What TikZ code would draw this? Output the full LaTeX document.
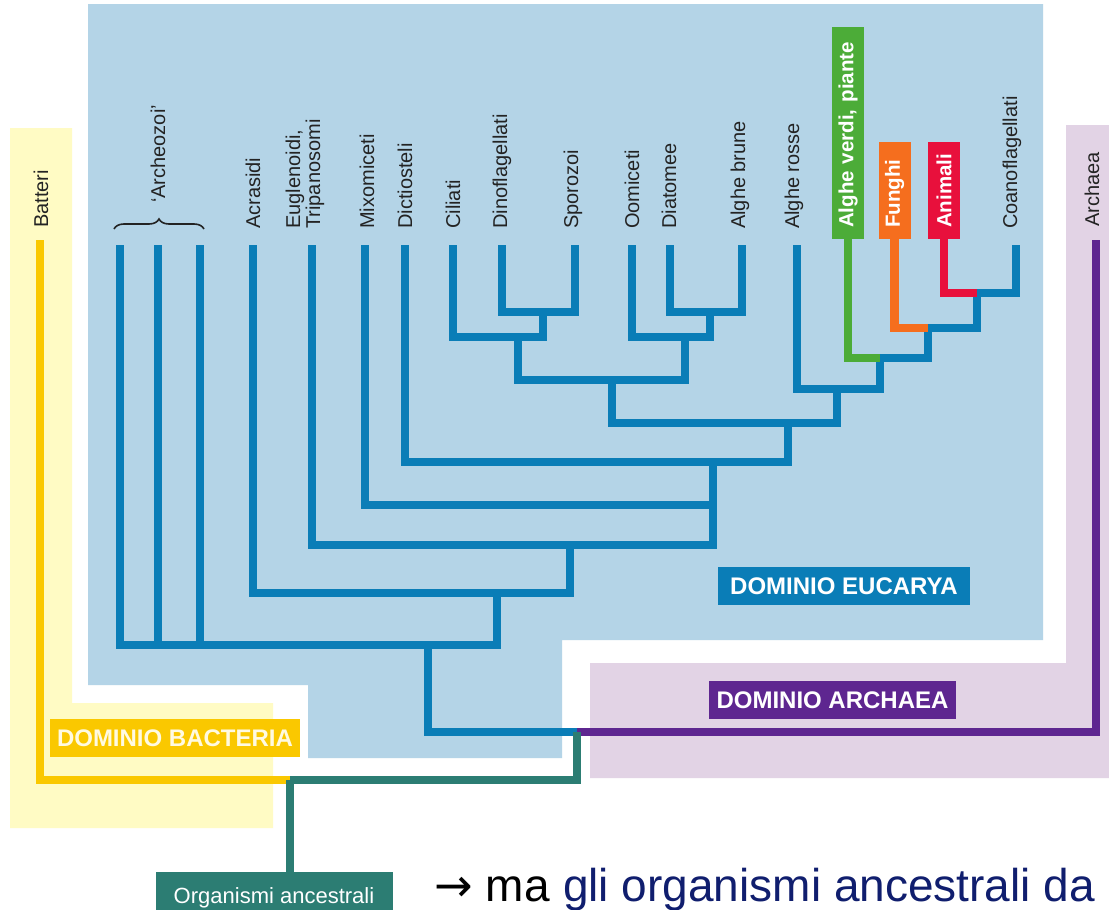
\documentclass[tikz,border=0pt]{standalone}
\usepackage{fontspec}
\setmainfont{Liberation Sans}
\newfontfamily\arrowfont{DejaVu Sans}
\usetikzlibrary{decorations.pathreplacing}
\definecolor{bgblue}{RGB}{180,212,231}
\definecolor{treeblue}{RGB}{10,125,183}
\definecolor{bgyellow}{RGB}{255,251,196}
\definecolor{yellowline}{RGB}{250,200,0}
\definecolor{bgpurple}{RGB}{226,211,229}
\definecolor{archpurple}{RGB}{94,38,144}
\definecolor{ancteal}{RGB}{44,125,115}
\definecolor{cgreen}{RGB}{76,172,56}
\definecolor{corange}{RGB}{245,110,30}
\definecolor{cred}{RGB}{232,16,60}
\definecolor{navy}{RGB}{16,30,110}
\definecolor{labelgray}{RGB}{35,35,35}
\definecolor{cream}{RGB}{255,250,225}
\begin{document}
\begin{tikzpicture}[x=1pt,y=-1pt,
  tree/.style={line width=8.5pt, line join=miter},
  lbl/.style={rotate=90, anchor=west, inner sep=0pt, text=labelgray,
              font=\fontsize{20}{20}\selectfont},
  cbox/.style={rotate=90, anchor=west, inner xsep=11pt, inner ysep=0pt,
               minimum height=32pt, align=left, text=white,
               font=\fontsize{20.5}{21}\selectfont\bfseries},
  dom/.style={inner sep=0pt, minimum height=38pt,
              font=\fontsize{24}{24}\selectfont\bfseries}]
\useasboundingbox (0,0) rectangle (1109,910);
\clip (0,0) rectangle (1109,910);
\fill[white] (0,0) rectangle (1109,910);
% backgrounds
\fill[bgyellow] (10,128) -- (72,128) -- (72,703) -- (273,703) -- (273,828) -- (10,828) -- cycle;
\fill[bgblue] (88,4) -- (1043,4) -- (1043,640) -- (562,640) -- (562,758) -- (308,758) -- (308,685) -- (88,685) -- cycle;
\fill[bgpurple] (1066,125) -- (1109,125) -- (1109,778) -- (590,778) -- (590,663) -- (1066,663) -- cycle;

% leaf labels
\node[lbl] (tbat) at (41,228) {Batteri};
\node[lbl] (tarc) at (158,203) {`Archeozoi'};
\node[lbl] (tacra) at (253,229) {Acrasidi};
\node[lbl, align=left] (teugl) at (305,229) {Euglenoidi,\\Tripanosomi};
\node[lbl] (tmixo) at (367,229) {Mixomiceti};
\node[lbl] (tdict) at (405,229) {Dictiosteli};
\node[lbl] (tcil) at (453,229) {Ciliati};
\node[lbl] (tdino) at (502,229) {Dinoflagellati};
\node[lbl] (tspor) at (573,229) {Sporozoi};
\node[lbl] (toom) at (632,229) {Oomiceti};
\node[lbl] (tdiat) at (669,229) {Diatomee};
\node[lbl] (tabru) at (740,229) {Alghe brune};
\node[lbl] (taros) at (794,229) {Alghe rosse};
\node[lbl] (tcoan) at (1012,229) {Coanoflagellati};
\node[lbl] (tarch) at (1092,227) {Archaea};
\draw[labelgray, line width=1.6pt, decorate, decoration={brace, amplitude=10pt}]
  (114,229) -- (204,229);

% coloured leaf boxes
\node[cbox, fill=cgreen, text width=190pt] (verdi) at (848,239) {Alghe verdi, piante};
\node[cbox, fill=corange, text width=75pt] (fung) at (894.5,239) {Funghi};
\node[cbox, fill=cred, text width=75pt] (anim) at (944,239) {Animali};

% leaf coordinates
\coordinate (bat) at (40,240);
\coordinate (arc1) at (120,245);
\coordinate (arc2) at (158,245);
\coordinate (arc3) at (200,245);
\coordinate (acra) at (253,245);
\coordinate (eugl) at (312,245);
\coordinate (mixo) at (365,245);
\coordinate (dict) at (405,245);
\coordinate (cil) at (453,245);
\coordinate (dino) at (502,245);
\coordinate (spor) at (575,245);
\coordinate (oom) at (632,245);
\coordinate (diat) at (670,245);
\coordinate (abru) at (742,245);
\coordinate (aros) at (797,245);
\coordinate (coan) at (1016,245);
\coordinate (arch) at (1096,240);

% internal nodes
\coordinate (n1) at (543,312);
\coordinate (n2) at (518,337);
\coordinate (n3) at (710,312);
\coordinate (n4) at (685,337);
\coordinate (n5) at (612,380);
\coordinate (nA) at (977,293);
\coordinate (nB) at (928,328);
\coordinate (nC) at (880,358);
\coordinate (nD) at (837,389);
\coordinate (nE) at (788,423);
\coordinate (nF) at (713,462);
\coordinate (nG) at (713,505);
\coordinate (nH) at (570,545);
\coordinate (nI) at (497,593);
\coordinate (nJ) at (428,645);
\coordinate (nK) at (577,732);
\coordinate (nR) at (290,780);

% domain labels
\node[dom, fill=treeblue, text=white, minimum width=252pt] (deuc) at (844,586) {DOMINIO EUCARYA};
\node[dom, fill=archpurple, text=white, minimum width=247pt] (darc) at (832.5,700) {DOMINIO ARCHAEA};
\node[dom, fill=yellowline, text=cream, minimum width=250pt] (dbac) at (175,738) {DOMINIO BACTERIA};

% tree
\begin{scope}[tree, treeblue]
\draw (dino) |- (n1) -| (spor);
\draw (cil) |- (n2) -| (n1);
\draw (diat) |- (n3) -| (abru);
\draw (oom) |- (n4) -| (n3);
\draw (n2) |- (n5) -| (n4);
\draw (nA) -| (coan);
\draw (nB) -| (nA);
\draw (nC) -| (nB);
\draw (aros) |- (nD) -| (nC);
\draw (n5) |- (nE) -| (nD);
\draw (dict) |- (nF) -| (nE);
\draw (mixo) |- (nG) -- (nF);
\draw (eugl) |- (nH) -| (nG);
\draw (acra) |- (nI) -| (nH);
\draw (arc1) |- (nJ) -| (nI);
\draw (arc2) -- (arc2 |- nJ);
\draw (arc3) -- (arc3 |- nJ);
\draw (nJ) |- (nK);
\end{scope}
\draw[tree, cred] (anim.west) |- (nA);
\draw[tree, corange] (fung.west) |- (nB);
\draw[tree, cgreen] (verdi.west) |- (nC);
\draw[tree, archpurple] (nK) -| (arch);
\draw[tree, yellowline] (bat) |- (nR);
\draw[tree, ancteal] (nR) -| (nK);

% ancestral organisms
\node[fill=ancteal, text=white, inner sep=0pt, minimum width=237pt, minimum height=51pt,
      anchor=north, font=\fontsize{22}{22}\selectfont] (org) at (274,872) {Organismi ancestrali};
\draw[tree, ancteal] (nR) -- (nR |- org.north);

% bottom note
\node[anchor=base west, inner sep=0pt, text=navy, font=\fontsize{46}{46}\selectfont] (note) at (563,901)
  {gli organismi ancestrali da};
\node[anchor=base east, inner sep=0pt, font=\fontsize{46}{46}\selectfont] (arrow) at ([xshift=-13pt]note.base west)
  {{\arrowfont →} ma};
\end{tikzpicture}
\end{document}
